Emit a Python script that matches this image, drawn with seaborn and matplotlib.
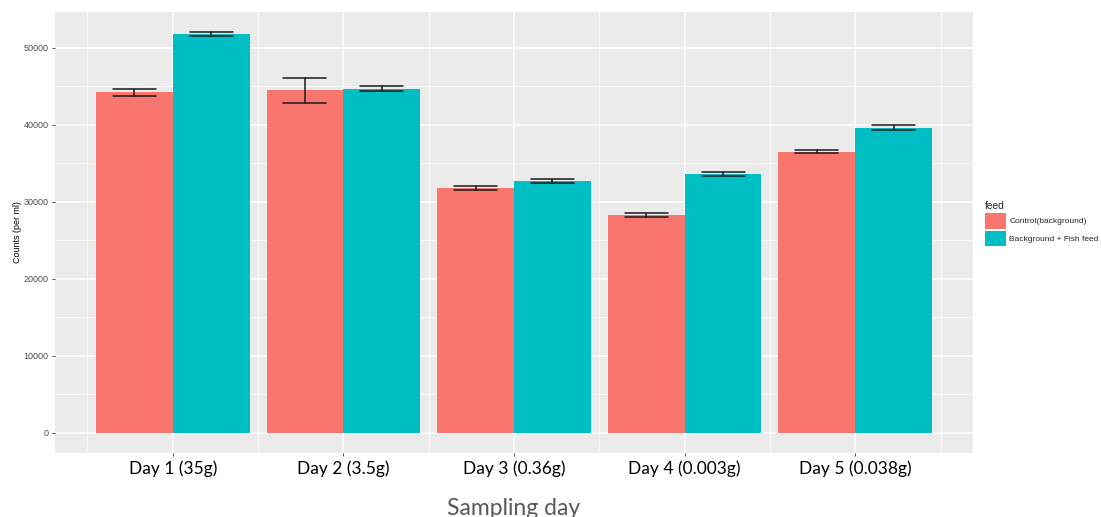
import matplotlib
matplotlib.use("Agg")
import matplotlib.pyplot as plt
from matplotlib.patches import Patch
import numpy as np
import pandas as pd
import seaborn as sns

# values
days = ["Day 1 (35g)", "Day 2 (3.5g)", "Day 3 (0.36g)", "Day 4 (0.003g)", "Day 5 (0.038g)"]
feeds = ["Control(background)", "Background + Fish feed"]
control = [44250, 44500, 31800, 28260, 36520]
control_err = [450, 1600, 300, 260, 200]
fish = [51810, 44720, 32700, 33620, 39670]
fish_err = [240, 280, 260, 260, 280]
colors = ["#F8766D", "#00BFC4"]

df = pd.DataFrame({
    "day": days * 2,
    "feed": [feeds[0]] * len(days) + [feeds[1]] * len(days),
    "counts": control + fish,
})

sns.set_style("darkgrid", {"axes.facecolor": "#EBEBEB", "grid.color": "white"})
plt.rcParams["font.family"] = ["Liberation Sans", "DejaVu Sans"]

fig = plt.figure(figsize=(11.01, 5.17), dpi=100)
ax = fig.add_axes([55 / 1101, 1 - 453 / 517, 918 / 1101, 441 / 517])

sns.barplot(data=df, x="day", y="counts", hue="feed", order=days, hue_order=feeds,
            palette=colors, width=0.9, errorbar=None, linewidth=0, saturation=1,
            ax=ax, legend=False)

# error bars on top of each bar
for container, errs in zip(ax.containers, [control_err, fish_err]):
    for bar, e in zip(container, errs):
        xc = bar.get_x() + bar.get_width() / 2
        top = bar.get_height()
        half = 0.126
        ax.plot([xc, xc], [top - e, top + e], color="#1a1a1a", lw=1.1, zorder=5)
        ax.plot([xc - half, xc + half], [top + e, top + e], color="#1a1a1a", lw=1.1, zorder=5)
        ax.plot([xc - half, xc + half], [top - e, top - e], color="#1a1a1a", lw=1.1, zorder=5)

ax.set_xlim(-0.69, 4.69)
ax.set_ylim(-2600, 54670)
ax.set_yticks(np.arange(0, 50001, 10000))
ax.set_yticks(np.arange(5000, 54000, 10000), minor=True)
ax.set_xticks(np.arange(-0.5, 5, 1), minor=True)
ax.grid(which="major", color="white", lw=1.1)
ax.grid(which="minor", color="white", lw=0.5)
ax.set_axisbelow(True)
for s in ax.spines.values():
    s.set_visible(False)

ax.tick_params(axis="y", which="major", length=2.5, width=0.6, color="#333333",
               labelsize=6.5, labelcolor="#4D4D4D", pad=2, left=True)
ax.tick_params(axis="x", which="major", length=2.5, width=0.6, color="#333333",
               labelsize=12.5, labelcolor="black", pad=3, bottom=True)
ax.tick_params(which="minor", length=0)
ax.set_xticks(range(len(days)))
ax.set_xticklabels(days, family=["Lato", "DejaVu Sans"])

ax.set_ylabel("Counts (per ml)", fontsize=6.4, color="black")
ax.yaxis.set_label_coords(-0.036, 0.5)
ax.set_xlabel("Sampling day", fontsize=16.5, color="#595959",
              family=["Lato", "DejaVu Sans"])
ax.xaxis.set_label_coords(0.5, -0.102)

handles = [Patch(facecolor=c, edgecolor="none") for c in colors]
leg = fig.legend(handles, feeds, title="feed", loc="upper left",
                 bbox_to_anchor=(985 / 1101, 1 - 201 / 517), frameon=False,
                 fontsize=6, title_fontsize=7.4, handlelength=2.5, handleheight=2.5,
                 handletextpad=0.4, labelspacing=0.25, borderpad=0, borderaxespad=0,
                 alignment="left")

fig.savefig("out.png", dpi=100)
